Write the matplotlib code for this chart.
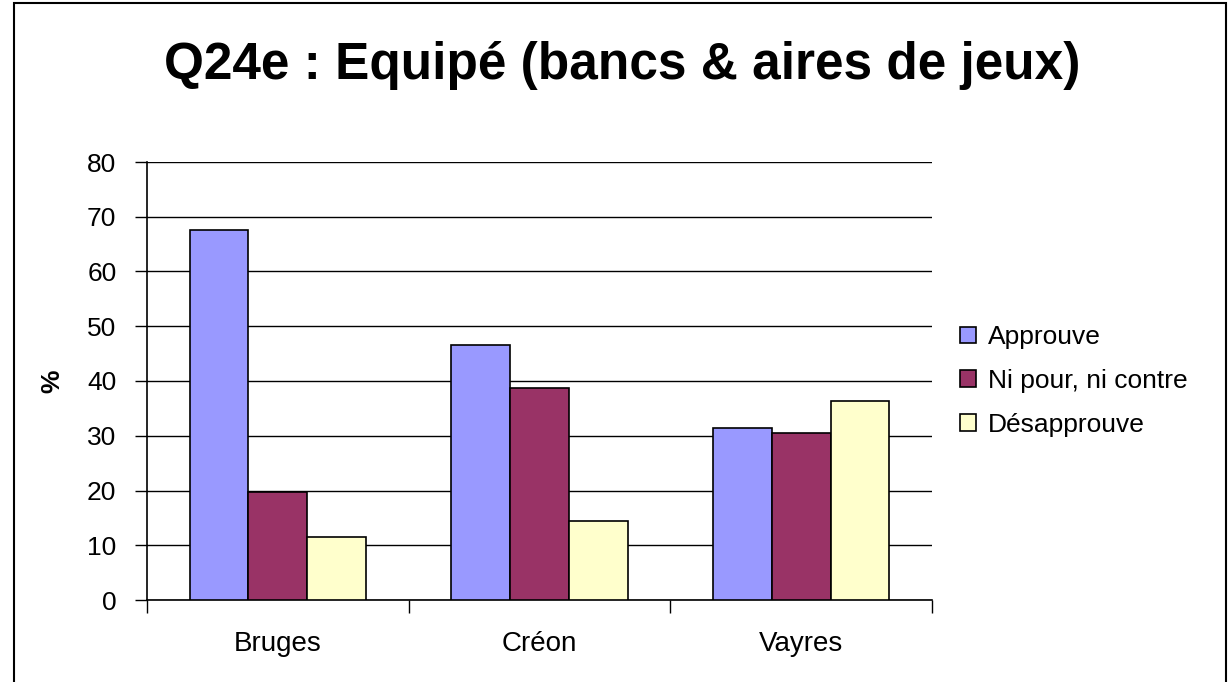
import matplotlib.pyplot as plt
import numpy as np
from matplotlib.patches import Rectangle

plt.rcParams['font.family'] = ['Liberation Sans', 'DejaVu Sans']

# données
villes = ['Bruges', 'Créon', 'Vayres']
series = ['Approuve', 'Ni pour, ni contre', 'Désapprouve']
approuve = [67.6, 46.6, 31.4]
ni_pour = [19.7, 38.7, 30.5]
desapprouve = [11.5, 14.4, 36.3]
couleurs = ['#9999FF', '#993366', '#FFFFCC']

fig = plt.figure(figsize=(12.31, 6.82), dpi=100)
W, H = 1231, 682
ax = fig.add_axes([147 / W, 1 - 600 / H, (932 - 147) / W, (600 - 162) / H])

# cadre extérieur
fig.patches.append(Rectangle((14 / W, -0.05), (1226 - 14) / W, 1.05 - 3 / H,
                             transform=fig.transFigure, fill=False,
                             edgecolor='black', linewidth=1.5))

idx = np.arange(len(villes))
largeur = 0.225
for i, (vals, c) in enumerate(zip([approuve, ni_pour, desapprouve], couleurs)):
    ax.bar(idx + (i - 1) * largeur, vals, largeur, color=c, edgecolor='black',
           linewidth=1.2, label=series[i], zorder=3)

ax.set_xlim(-0.5, len(villes) - 0.5)
ax.set_ylim(0, 80)
ax.set_yticks(np.arange(0, 81, 10))
ax.tick_params(axis='y', labelsize=19, length=9, width=1, direction='out', pad=13)
ax.yaxis.grid(True, color='black', linewidth=1)
ax.set_axisbelow(True)

ax.set_xticks(idx)
ax.set_xticklabels(villes, fontsize=20)
ax.tick_params(axis='x', length=0, pad=22)
ax.set_xticks(np.arange(-0.5, len(villes), 1), minor=True)
ax.tick_params(axis='x', which='minor', length=9, width=1, direction='out')

for s in ['top', 'right']:
    ax.spines[s].set_visible(False)
for s in ['left', 'bottom']:
    ax.spines[s].set_linewidth(1.2)

ax.set_ylabel('%', fontsize=19, fontweight='bold', labelpad=16)

fig.text(622 / W, 1 - 66 / H, 'Q24e : Equipé (bancs & aires de jeux)',
         fontsize=37, fontweight='bold', ha='center', va='center')

ax.legend(loc='center left', bbox_to_anchor=(960 / W, 1 - 381 / H),
          bbox_transform=fig.transFigure, frameon=False, fontsize=19,
          handlelength=0.6, handleheight=0.6, handletextpad=0.45,
          labelspacing=0.75, borderpad=0, borderaxespad=0)

fig.savefig('out.png', dpi=100)
